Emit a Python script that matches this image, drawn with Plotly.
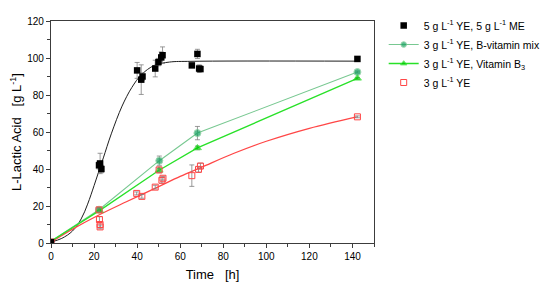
import plotly.graph_objects as go

# 5 g/L YE, 5 g/L ME (black squares)
me_t = [0, 22.3, 22.8, 23.4, 40.0, 41.9, 42.5, 48.4, 49.9, 51.2, 51.8, 65.4, 68.0, 68.8, 69.4, 142.3]
me_y = [0.5, 42.0, 43.0, 40.0, 93.3, 88.3, 90.0, 94.3, 97.8, 100.3, 101.5, 96.0, 102.2, 94.3, 94.0, 99.5]
me_err = [0, 2, 5.5, 2, 4.3, 8, 2, 4.5, 2, 3, 4.5, 1, 2.5, 2, 1, 0.5]
# fitted curve
me_fit_t = [0, 5, 10, 14, 17, 20, 22, 24.3, 28, 33, 37.5, 42, 48, 55, 65, 142]
me_fit_y = [0.5, 2.5, 6.5, 13, 21, 31, 38, 46, 59, 74, 84, 91, 96, 97.8, 98.2, 98.3]

# 3 g/L YE, B-vitamin mix (teal circles)
mix_t = [0, 22.3, 50.3, 68.0, 142.3]
mix_y = [1.0, 18.0, 44.5, 59.4, 92.4]
mix_err = [0, 1, 2.5, 3.6, 0.5]

# 3 g/L YE, Vitamin B3 (green triangles)
b3_t = [0, 22.5, 50.2, 68.0, 142.3]
b3_y = [1.0, 17.5, 39.3, 51.4, 89.0]
b3_err = [0, 1, 1, 1, 0.5]

# 3 g/L YE (open red squares)
ye_t = [0, 22.5, 22.8, 22.8, 22.3, 39.8, 42.2, 48.4, 50.2, 51.5, 52.0, 65.4, 68.5, 69.4, 142.3]
ye_y = [0.5, 12.7, 10.0, 8.7, 17.9, 26.8, 25.2, 30.2, 39.5, 33.9, 35.0, 36.4, 39.8, 41.6, 68.2]
ye_err = [0, 1.5, 1.5, 1, 1, 0.8, 1, 1, 1.5, 1.5, 1, 5.8, 1.5, 1.5, 0.5]
ye_fit_t = [0, 10, 22, 35, 50, 60, 70, 85, 100, 120, 142]
ye_fit_y = [0.5, 7.5, 15, 22.3, 30.5, 36, 41, 48.5, 55, 62, 68.2]

x_ticks = [0, 20, 40, 60, 80, 100, 120, 140]
y_ticks = [0, 20, 40, 60, 80, 100, 120]

FONT = "Arial, Liberation Sans, sans-serif"
GREY = "rgb(128,128,128)"


def err(vals):
    return dict(type="data", array=vals, visible=True, color=GREY, thickness=0.8, width=2.5)


fig = go.Figure()

fig.add_trace(go.Scatter(x=me_fit_t, y=me_fit_y, mode="lines", line=dict(color="rgb(30,30,30)", width=1, shape="spline"),
                         showlegend=False, hoverinfo="skip"))
fig.add_trace(go.Scatter(x=ye_fit_t, y=ye_fit_y, mode="lines", line=dict(color="rgb(255,70,70)", width=1.3, shape="spline"),
                         showlegend=False, hoverinfo="skip"))

fig.add_trace(go.Scatter(x=mix_t, y=mix_y, mode="lines+markers", name="3 g L<sup>-1</sup> YE, B-vitamin mix",
                         line=dict(color="rgb(120,200,145)", width=1.1),
                         marker=dict(symbol="circle", size=[0, 7, 7, 7, 7], color="rgb(20,160,95)"),
                         error_y=err(mix_err)))
fig.add_trace(go.Scatter(x=b3_t, y=b3_y, mode="lines+markers", name="3 g L<sup>-1</sup> YE, Vitamin B<sub>3</sub>",
                         line=dict(color="rgb(40,225,40)", width=1.3),
                         marker=dict(symbol="triangle-up", size=[0, 7, 7, 7, 7], color="rgb(0,200,0)"),
                         error_y=err(b3_err)))
fig.add_trace(go.Scatter(x=ye_t, y=ye_y, mode="markers", name="3 g L<sup>-1</sup> YE",
                         marker=dict(symbol="square-open", size=6, color="rgb(255,70,70)", line=dict(width=1)),
                         error_y=err(ye_err)))
fig.add_trace(go.Scatter(x=me_t, y=me_y, mode="markers", name="5 g L<sup>-1</sup> YE, 5 g L<sup>-1</sup> ME",
                         marker=dict(symbol="square", size=6.5, color="black"),
                         error_y=err(me_err), legendrank=1))

axis_common = dict(showline=True, linecolor="rgb(60,60,60)", linewidth=1.2, mirror=True,
                   ticks="outside", ticklen=4, tickwidth=1, tickcolor="rgb(60,60,60)",
                   showgrid=False, zeroline=False, automargin=False,
                   minor=dict(ticks="outside", ticklen=2.5, tickwidth=1, tickcolor="rgb(60,60,60)"),
                   tickfont=dict(family=FONT, size=10, color="black"))

fig.update_xaxes(range=[0, 150], tickvals=x_ticks, minor_dtick=10,
                 title=dict(text="Time\u00a0\u00a0\u00a0[h]", font=dict(family=FONT, size=13, color="black"), standoff=8),
                 **axis_common)
fig.update_yaxes(range=[0, 120], tickvals=y_ticks, minor_dtick=10,
                 title=dict(text="L-Lactic Acid\u00a0\u00a0\u00a0[g L<sup>-1</sup>]", font=dict(family=FONT, size=13, color="black"), standoff=6),
                 **axis_common)

# the page has an 8px body margin, so the figure is sized to fit the window
fig.update_layout(
    width=542, height=275,
    margin=dict(l=43, r=176, t=3, b=40),
    plot_bgcolor="white", paper_bgcolor="white",
    legend=dict(x=1.03, y=1.045, xanchor="left", yanchor="top", traceorder="normal",
                font=dict(family=FONT, size=10.5, color="black"), itemwidth=30,
                tracegroupgap=0, bgcolor="rgba(0,0,0,0)"),
)

fig.write_html("out.html")
